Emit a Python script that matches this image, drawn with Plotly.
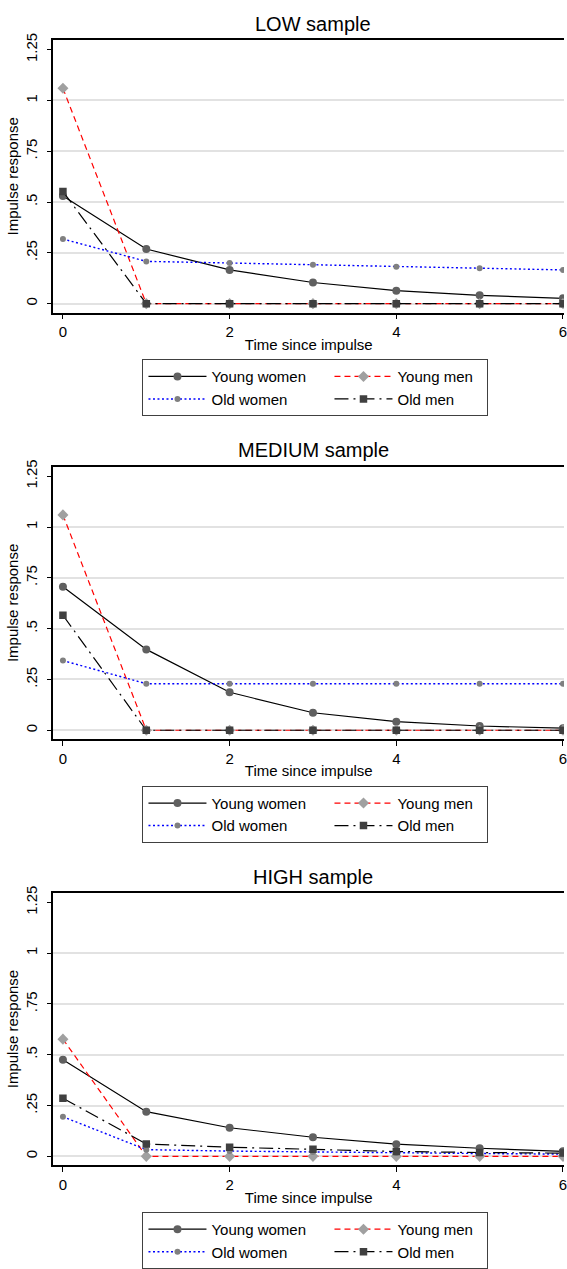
import plotly.graph_objects as go

# ---------------- data ----------------
periods = [0, 1, 2, 3, 4, 5, 6]
series_names = ["Young women", "Young men", "Old women", "Old men"]
panel_titles = ["LOW sample", "MEDIUM sample", "HIGH sample"]

low_young_women = [0.530, 0.269, 0.166, 0.104, 0.064, 0.041, 0.026]
low_young_men = [1.060, 0.0, 0.0, 0.0, 0.0, 0.0, 0.0]
low_old_women = [0.318, 0.208, 0.200, 0.192, 0.182, 0.174, 0.166]
low_old_men = [0.552, 0.0, 0.0, 0.0, 0.0, 0.0, 0.0]

med_young_women = [0.706, 0.398, 0.187, 0.086, 0.042, 0.021, 0.010]
med_young_men = [1.060, 0.0, 0.0, 0.0, 0.0, 0.0, 0.0]
med_old_women = [0.343, 0.229, 0.229, 0.229, 0.229, 0.229, 0.229]
med_old_men = [0.566, 0.0, 0.0, 0.0, 0.0, 0.0, 0.0]

high_young_women = [0.476, 0.220, 0.141, 0.094, 0.060, 0.040, 0.025]
high_young_men = [0.577, 0.0, 0.0, 0.0, 0.0, 0.0, 0.0]
high_old_women = [0.195, 0.033, 0.026, 0.021, 0.017, 0.014, 0.011]
high_old_men = [0.286, 0.061, 0.045, 0.035, 0.024, 0.019, 0.016]

y_tick_values = [0, 0.25, 0.5, 0.75, 1, 1.25]
y_tick_labels = ["0", ".25", ".5", ".75", "1", "1.25"]
x_tick_values = [0, 2, 4, 6]

panels = [
    [low_young_women, low_young_men, low_old_women, low_old_men],
    [med_young_women, med_young_men, med_old_women, med_old_men],
    [high_young_women, high_young_men, high_old_women, high_old_men],
]

# ---------------- layout geometry ----------------
W, H = 567, 1269
ML = 53
GW = W - ML
FONT = "Liberation Sans, Arial, Helvetica, sans-serif"


def px_x(p):
    return (p - ML) / GW


def px_y(p):
    return 1 - p / H


offsets = [0, 430, 859.5]
plot_left, plot_top, plot_bottom = 53.5, 33.3, 308.0
zero_px, unit_y = 299.0, 204.8
x0_px, unit_x = 63.0, 83.83

y_range = [-(plot_bottom - zero_px) / unit_y, (zero_px - plot_top) / unit_y]
x_range = [-(x0_px - plot_left) / unit_x, (W - x0_px) / unit_x]

styles = [
    dict(line=dict(color="black", width=1.2, dash="solid"),
         marker=dict(symbol="circle", size=8, color="#606060")),
    dict(line=dict(color="#ff0000", width=1.2, dash="6px,4px"),
         marker=dict(symbol="diamond", size=8.5, color="#a0a0a0")),
    dict(line=dict(color="#0000ff", width=1.4, dash="2px,2.5px"),
         marker=dict(symbol="circle", size=6, color="#808080")),
    dict(line=dict(color="black", width=1.2, dash="14px,5px,2px,5px"),
         marker=dict(symbol="square", size=7.5, color="#404040")),
]
# text width reserved per legend entry (left column wider -> column pitch)
legend_entry_widths = [113, 85, 113, 85]

fig = go.Figure()
annotations = []
for k, (title, series) in enumerate(zip(panel_titles, panels)):
    suffix = "" if k == 0 else str(k + 1)
    legend_name = "legend" if k == 0 else f"legend{k + 1}"
    for name, vals, st, lw in zip(series_names, series, styles, legend_entry_widths):
        fig.add_trace(go.Scatter(
            x=periods, y=vals, name=name, mode="lines+markers",
            line=st["line"], marker=dict(**st["marker"], line=dict(width=0)),
            xaxis="x" + suffix, yaxis="y" + suffix, legend=legend_name,
            legendwidth=lw,
        ))
    off = offsets[k]
    dom_y = [px_y(plot_bottom + off), px_y(plot_top + off)]
    fig.layout["xaxis" + suffix] = dict(
        domain=[px_x(plot_left), 1], range=x_range, anchor="y" + suffix,
        tickvals=x_tick_values, ticks="outside", ticklen=5, tickwidth=1.2,
        tickcolor="black", showline=True, linecolor="black", linewidth=1.6,
        mirror=True, showgrid=False, zeroline=False,
        ticklabeloverflow="allow",
        tickfont=dict(size=15, color="black", family=FONT),
        title=dict(text="Time since impulse", standoff=0,
                   font=dict(size=15, color="black", family=FONT)),
    )
    fig.layout["yaxis" + suffix] = dict(
        domain=dom_y, range=y_range, anchor="x" + suffix,
        tickvals=y_tick_values, ticktext=y_tick_labels, tickangle=-90,
        ticks="outside", ticklen=5, tickwidth=1.2, tickcolor="black",
        ticklabelstandoff=4,
        showline=True, linecolor="black", linewidth=1.6, mirror=False,
        showgrid=False, zeroline=False,
        minor=dict(tickvals=y_tick_values[:-1], showgrid=True,
                   gridcolor="#e2e2e2", gridwidth=1.5, ticks=""),
        tickfont=dict(size=15, color="black", family=FONT),
        title=dict(text="Impulse response", standoff=0,
                   font=dict(size=15, color="black", family=FONT)),
    )
    fig.layout[legend_name] = dict(
        orientation="h", x=px_x(143), xanchor="left",
        y=px_y(355 + off), yanchor="top",
        entrywidthmode="pixels", itemwidth=58,
        bgcolor="white", bordercolor="#404040", borderwidth=1,
        font=dict(size=15, color="black", family=FONT),
        tracegroupgap=0,
    )
    annotations.append(dict(
        text=title, xref="paper", yref="paper", x=px_x(315),
        y=px_y(17 + off), xanchor="center", yanchor="middle",
        showarrow=False, font=dict(size=20, color="black", family=FONT),
    ))

fig.update_layout(
    width=W, height=H, autosize=False,
    margin=dict(l=ML, r=0, t=0, b=0),
    paper_bgcolor="white", plot_bgcolor="white",
    annotations=annotations, showlegend=True, hovermode=False,
)

fig.write_html("out.html", config={"displayModeBar": False},
               post_script="document.body.style.margin='0px';")
